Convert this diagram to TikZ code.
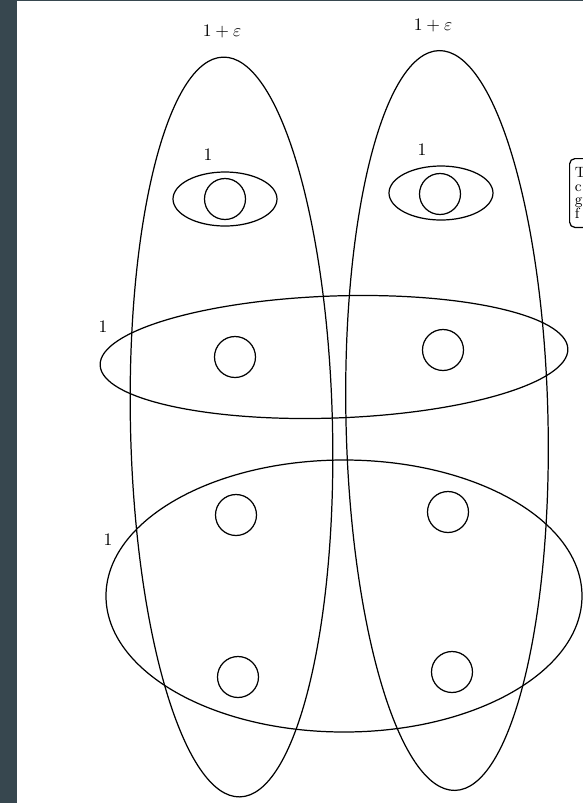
\documentclass[tikz,border=0pt]{standalone}
\usepackage{amsmath}
\usepackage{tikz}
\usetikzlibrary{positioning}
\definecolor{slate}{RGB}{55,71,79}

\begin{document}
\begin{tikzpicture}[x=0.2mm,y=0.2mm,line width=0.7pt,
  vtx/.style={draw,circle,inner sep=0pt,minimum size=8.2mm},
  lbl/.style={inner sep=0pt}]
\useasboundingbox (0,0) rectangle (583,-803);
\fill[slate] (0,0) rectangle (17,-803);
\fill[slate] (17,0) rectangle (583,-1.3);
% vertices
\node[vtx] (a1) at (225,-199) {};
\node[vtx] (b1) at (440,-194) {};
\node[vtx] (a2) at (235,-357) {};
\node[vtx] (b2) at (443,-350) {};
\node[vtx] (a3) at (236,-515) {};
\node[vtx] (b3) at (448,-512) {};
\node[vtx] (a4) at (238,-677) {};
\node[vtx] (b4) at (452,-672) {};
% hyperedges
\draw[rotate around={1.3:(231.5,-427)}] (231.5,-427) ellipse [x radius=101,y radius=370];
\draw[rotate around={1.25:(447,-420.5)}] (447,-420.5) ellipse [x radius=101,y radius=370];
\draw (225,-199) ellipse [x radius=52,y radius=27];
\draw (441,-193) ellipse [x radius=52,y radius=27];
\draw[rotate around={2:(334,-357)}] (334,-357) ellipse [x radius=234,y radius=61];
\draw (344,-596) ellipse [x radius=238,y radius=136];
% weights
\node[lbl] (w1) at (222,-32) {$1+\varepsilon$};
\node[lbl] (w2) at (433,-26) {$1+\varepsilon$};
\node[lbl] (w3) at (208,-155) {1};
\node[lbl] (w4) at (422,-150) {1};
\node[lbl] (w5) at (103,-327) {1};
\node[lbl] (w6) at (108,-540) {1};
% cut-off note
\node[draw,rounded corners=3pt,anchor=north west,align=left,inner xsep=3pt,inner ysep=5pt,
  font=\fontsize{8.5}{7.8}\selectfont,text width=15mm] (note) at (569,-158) {T\\c\\g\\f};
\end{tikzpicture}
\end{document}
